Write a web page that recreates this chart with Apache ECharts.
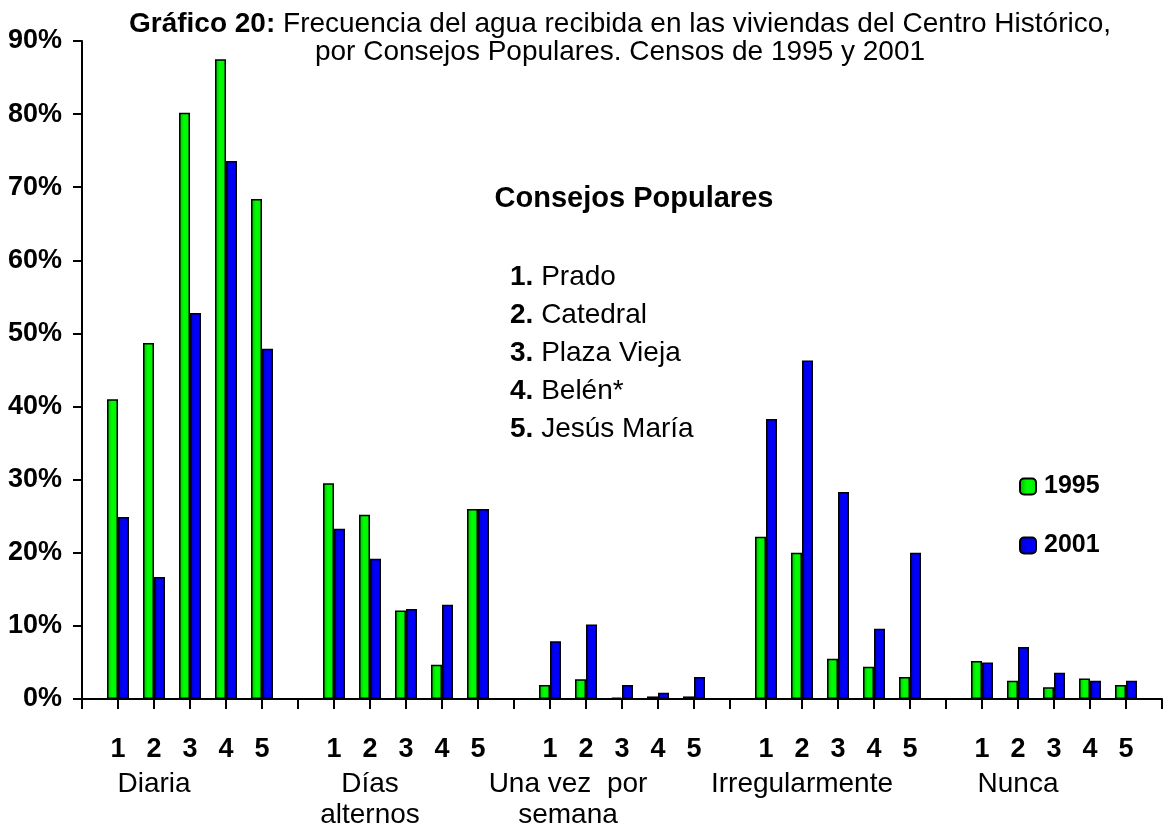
<!DOCTYPE html>
<html>
<head>
<meta charset="utf-8">
<script src="https://cdn.jsdelivr.net/npm/echarts@6/dist/echarts.min.js"></script>
<style>html,body{margin:0;padding:0;background:#fff}#c{width:1163px;height:827px}</style>
</head>
<body>
<div id="c"></div>
<script>
// ---- data ----
const groupNames = ['Diaria', 'Días\nalternos', 'Una vez  por\nsemana', 'Irregularmente', 'Nunca'];
const councilCodes = ['1', '2', '3', '4', '5'];
const councilNames = ['Prado', 'Catedral', 'Plaza Vieja', 'Belén*', 'Jesús María'];
const seriesNames = ['1995', '2001'];
// values in %, per group, councils 1..5
const diaria1995 = [41.0, 48.7, 80.2, 87.5, 68.4];
const diaria2001 = [24.9, 16.7, 52.8, 73.6, 47.9];
const alternos1995 = [29.5, 25.2, 12.1, 4.7, 26.0];
const alternos2001 = [23.3, 19.2, 12.3, 12.9, 26.0];
const semana1995 = [1.9, 2.7, 0.2, 0.35, 0.35];
const semana2001 = [7.9, 10.2, 1.9, 0.85, 3.0];
const irreg1995 = [22.2, 20.0, 5.5, 4.4, 3.0];
const irreg2001 = [38.3, 46.3, 28.3, 9.6, 20.0];
const nunca1995 = [5.2, 2.5, 1.6, 2.8, 1.9];
const nunca2001 = [5.0, 7.1, 3.6, 2.5, 2.5];
const yTicks = [0, 10, 20, 30, 40, 50, 60, 70, 80, 90];

// ---- build padded category layout: blank, 5 councils, blank, ... blank ----
const groups1995 = [diaria1995, alternos1995, semana1995, irreg1995, nunca1995];
const groups2001 = [diaria2001, alternos2001, semana2001, irreg2001, nunca2001];
const cats = [''];
const d1995 = [null];
const d2001 = [null];
groups1995.forEach((g, gi) => {
  g.forEach((v, i) => {
    cats.push(councilCodes[i]);
    d1995.push(v);
    d2001.push(groups2001[gi][i]);
  });
  cats.push('');
  d1995.push(null);
  d2001.push(null);
});
// half-step axis for group captions
const halfCats = [];
for (let k = 0; k < cats.length * 2 - 1; k++) halfCats.push('');
const groupHalfIdx = [4, 16, 27, 40, 52];
groupHalfIdx.forEach((k, i) => { halfCats[k] = groupNames[i]; });

const FONT = '"Liberation Sans", Arial, sans-serif';
const chart = echarts.init(document.getElementById('c'), null, {renderer: 'canvas'});
const greenFill = new echarts.graphic.LinearGradient(0, 0, 1, 0, [
  {offset: 0, color: '#00b400'}, {offset: 0.45, color: '#00ff00'}, {offset: 1, color: '#00ee00'}]);
const blueFill = new echarts.graphic.LinearGradient(0, 0, 1, 0, [
  {offset: 0, color: '#0000b8'}, {offset: 0.45, color: '#0000ff'}, {offset: 1, color: '#0000f0'}]);

chart.setOption({
  backgroundColor: '#fff',
  animation: false,
  textStyle: {fontFamily: FONT, color: '#000'},
  title: [
    {
      text: '{b|Gráfico 20:} Frecuencia del agua recibida en las viviendas del Centro Histórico,\npor Consejos Populares. Censos de 1995 y 2001',
      left: 620, top: 11, textAlign: 'center', padding: 0,
      textStyle: {fontFamily: FONT, fontSize: 28, fontWeight: 'normal', color: '#000', lineHeight: 27.5,
        rich: {b: {fontFamily: FONT, fontSize: 28, fontWeight: 'bold', color: '#000', lineHeight: 27.5}}}
    },
    {
      text: 'Consejos Populares',
      left: 634, top: 184, textAlign: 'center', padding: 0,
      textStyle: {fontFamily: FONT, fontSize: 29, fontWeight: 'bold', color: '#000'}
    },
    {
      text: councilNames.map((n, i) => '{n|' + councilCodes[i] + '.} ' + n).join('\n'),
      left: 510, top: 258, padding: 0,
      textStyle: {fontFamily: FONT, fontSize: 28, fontWeight: 'normal', color: '#000', lineHeight: 38,
        rich: {n: {fontFamily: FONT, fontSize: 28, fontWeight: 'bold', color: '#000', lineHeight: 38}}}
    }
  ],
  legend: {
    data: seriesNames,
    orient: 'vertical',
    left: 1019, top: 472, padding: 0,
    itemWidth: 16, itemHeight: 16, itemGap: 30,
    textStyle: {fontFamily: FONT, fontSize: 25, fontWeight: 'bold', color: '#000', lineHeight: 25, padding: [4, 0, 0, 3]}
  },
  grid: {left: 82, right: 1, top: 41, bottom: 128, containLabel: false, outerBoundsMode: 'none'},
  xAxis: [
    {
      type: 'category', data: cats, boundaryGap: false,
      axisLine: {show: true, lineStyle: {color: '#000', width: 2}},
      axisTick: {show: true, interval: 0, length: 10, lineStyle: {color: '#000', width: 2}},
      axisLabel: {interval: 0, margin: 37, fontFamily: FONT, fontSize: 27, fontWeight: 'bold', color: '#000'},
      splitLine: {show: false}
    },
    {
      type: 'category', data: halfCats, boundaryGap: false, position: 'bottom',
      axisLine: {show: false}, axisTick: {show: false}, splitLine: {show: false},
      axisLabel: {interval: 0, margin: 70, fontFamily: FONT, fontSize: 28, color: '#000', lineHeight: 31}
    }
  ],
  yAxis: {
    type: 'value', min: 0, max: 90, interval: 10,
    axisLine: {show: true, lineStyle: {color: '#000', width: 2}},
    axisTick: {show: true, length: 9, inside: false, lineStyle: {color: '#000', width: 2}},
    axisLabel: {margin: 20, formatter: '{value}%', fontFamily: FONT, fontSize: 27, fontWeight: 'bold', color: '#000'},
    splitLine: {show: false}
  },
  series: [
    {
      name: seriesNames[0], type: 'bar', xAxisIndex: 0, data: d1995,
      barWidth: 11, barGap: '0%',
      itemStyle: {color: greenFill, borderColor: '#000', borderWidth: 1.5}
    },
    {
      name: seriesNames[1], type: 'bar', xAxisIndex: 0, data: d2001,
      barWidth: 11, barGap: '0%',
      itemStyle: {color: blueFill, borderColor: '#000', borderWidth: 1.5}
    }
  ]
});
</script>
</body>
</html>
